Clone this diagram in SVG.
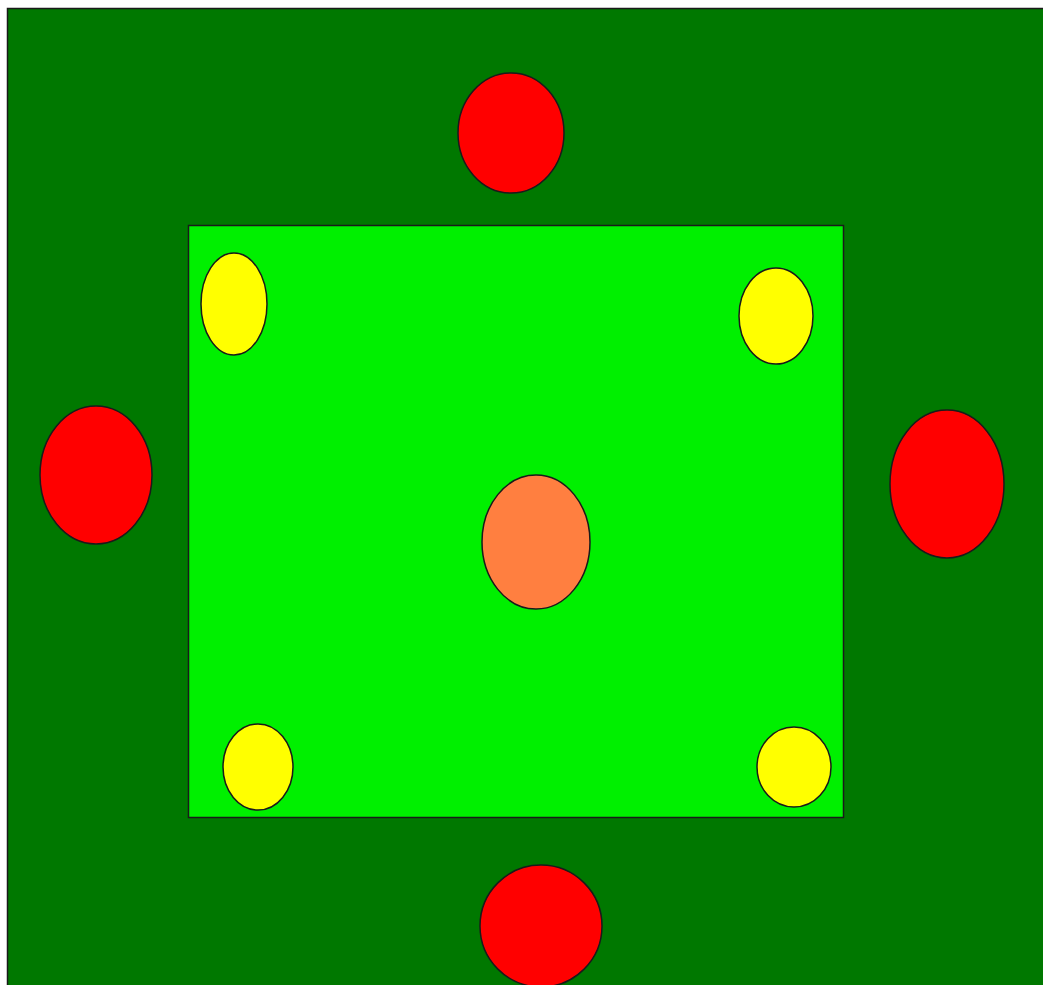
<svg xmlns="http://www.w3.org/2000/svg" width="1043" height="985" viewBox="0 0 1043 985">
<style>
.o{stroke:#1a1a1a;stroke-width:1.5}
.red{fill:#ff0000}
.yel{fill:#ffff00}
</style>
<rect width="1043" height="985" fill="#ffffff"/>
<rect id="field" x="7.5" y="8.5" width="1050" height="1000" fill="#007800" class="o"/>
<rect id="inner" x="188.5" y="225.5" width="655" height="592" fill="#00f000" class="o"/>
<g id="top-red"><ellipse cx="511" cy="133" rx="53" ry="60" class="o red"/></g>
<g id="left-red"><ellipse cx="96" cy="475" rx="56" ry="69" class="o red"/></g>
<g id="right-red"><ellipse cx="947" cy="484" rx="57" ry="74" class="o red"/></g>
<g id="bottom-red"><ellipse cx="541" cy="926" rx="61" ry="61" class="o red"/></g>
<g id="center"><ellipse cx="536" cy="542" rx="54" ry="67" class="o" fill="#ff7f40"/></g>
<g id="yellow-tl"><ellipse cx="234" cy="304" rx="33" ry="51" class="o yel"/></g>
<g id="yellow-tr"><ellipse cx="776" cy="316" rx="37" ry="48" class="o yel"/></g>
<g id="yellow-bl"><ellipse cx="258" cy="767" rx="35" ry="43" class="o yel"/></g>
<g id="yellow-br"><ellipse cx="794" cy="767" rx="37" ry="40" class="o yel"/></g>
<g id="connectors"></g>
</svg>
